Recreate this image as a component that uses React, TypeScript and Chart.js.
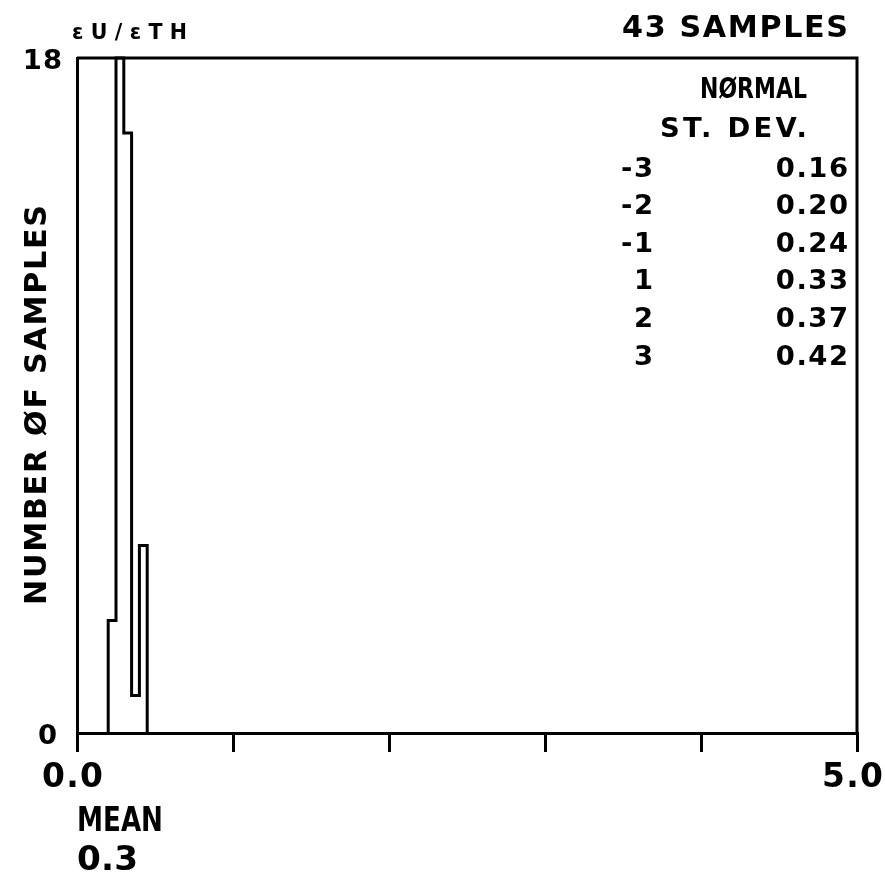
import React, { useEffect, useRef } from "react";
import { Chart, registerables } from "chart.js";

Chart.register(...registerables);

// Histogram bins (eU/eTH ratio) and sample counts
const binEdges = [0.2, 0.25, 0.3, 0.35, 0.4, 0.45];
const counts = [3, 18, 16, 1, 5];

// Axis ticks
const xTickValues = [0, 1, 2, 3, 4, 5];
const xTickLabels = ["0.0", "", "", "", "", "5.0"];
const yTickValues = [0, 18];
const yTickLabels = ["0", "18"];

// Normal standard deviation table
const stdDevLevels = ["-3", "-2", "-1", "1", "2", "3"];
const stdDevValues = ["0.16", "0.20", "0.24", "0.33", "0.37", "0.42"];

const ratioLabel = "εU/εTH";
const sampleLabel = "43 SAMPLES";
const yAxisTitle = "NUMBER ØF SAMPLES";
const tableTitle1 = "NØRMAL";
const tableTitle2 = "ST. DEV.";
const meanLabel = "MEAN";
const meanValue = "0.3";

const FONT = "'DejaVu Sans', sans-serif";
const CAP = 0.729;

// draw text so that its caps span [top,bottom] and its ink spans [x0,x1]
function fitText(
  ctx: CanvasRenderingContext2D,
  text: string,
  x0: number,
  x1: number,
  top: number,
  bottom: number
) {
  const size = (bottom - top) / CAP;
  ctx.save();
  ctx.font = `bold ${size}px ${FONT}`;
  (ctx as any).letterSpacing = "0px";
  ctx.textAlign = "left";
  ctx.textBaseline = "alphabetic";
  const natural = ctx.measureText(text).width;
  const target = x1 - x0;
  const n = [...text].length;
  if (natural >= target || n < 2) {
    ctx.translate(x0, bottom);
    ctx.scale(target / natural, 1);
    ctx.fillText(text, 0, 0);
  } else {
    (ctx as any).letterSpacing = `${(target - natural) / (n - 1)}px`;
    ctx.fillText(text, x0, bottom);
  }
  ctx.restore();
}

function rightText(
  ctx: CanvasRenderingContext2D,
  text: string,
  x1: number,
  cy: number,
  cap: number,
  spacing: number
) {
  const size = cap / CAP;
  ctx.save();
  ctx.font = `bold ${size}px ${FONT}`;
  (ctx as any).letterSpacing = `${spacing}px`;
  ctx.textAlign = "left";
  ctx.textBaseline = "alphabetic";
  const w = ctx.measureText(text).width - spacing;
  ctx.fillText(text, x1 - w, cy + cap / 2);
  ctx.restore();
}

const annotations = {
  id: "annotations",
  afterDraw(chart: any) {
    const ctx: CanvasRenderingContext2D = chart.ctx;
    const a = chart.chartArea;
    const xs = chart.scales.x;
    const ys = chart.scales.y;
    ctx.save();
    ctx.strokeStyle = "#000";
    ctx.lineWidth = 3;
    ctx.beginPath();
    ctx.moveTo(a.left, a.top);
    ctx.lineTo(a.right, a.top);
    ctx.lineTo(a.right, a.bottom);
    ctx.stroke();
    ctx.fillStyle = "#000";

    // x tick labels
    xTickValues.forEach((v, i) => {
      const t = xTickLabels[i];
      if (!t) return;
      const px = xs.getPixelForValue(v) - 4.5;
      fitText(ctx, t, px - 30.5, px + 30.5, 763, 787);
    });
    // y tick labels
    yTickValues.forEach((v, i) => {
      const t = yTickLabels[i];
      const py = ys.getPixelForValue(v);
      rightText(ctx, t, a.left - (t.length > 1 ? 15 : 20), py + 1, 20, 1);
    });

    fitText(ctx, ratioLabel, 72, 187, 24, 39);
    fitText(ctx, sampleLabel, 622, 848, 15, 37);
    fitText(ctx, tableTitle1, 700, 807, 77, 98);
    fitText(ctx, tableTitle2, 660, 807, 117, 137);
    stdDevLevels.forEach((lv, i) => {
      const y = 166.5 + i * 37.6;
      rightText(ctx, lv, 653, y, 20, 1.5);
      rightText(ctx, stdDevValues[i], 848, y, 20, 1.5);
    });
    fitText(ctx, meanLabel, 77, 163, 806, 831);
    fitText(ctx, meanValue, 77, 138, 845, 870);

    ctx.save();
    ctx.translate(0, 0);
    ctx.rotate(-Math.PI / 2);
    // rotated: x' = -y, y' = x
    fitText(ctx, yAxisTitle, -605, -205, 24, 46);
    ctx.restore();
    ctx.restore();
  },
};

export default function App() {
  const ref = useRef<HTMLCanvasElement | null>(null);

  useEffect(() => {
    if (!ref.current) return;
    const points = [
      { x: binEdges[0], y: 0 },
      ...counts.map((c, i) => ({ x: binEdges[i], y: c })),
      { x: binEdges[binEdges.length - 1], y: 0 },
    ];
    const chart = new Chart(ref.current, {
      type: "line",
      data: {
        datasets: [
          {
            data: points,
            stepped: "before",
            borderColor: "#000",
            borderWidth: 3,
            pointRadius: 0,
            fill: false,
            clip: false as any,
          },
        ],
      },
      options: {
        animation: false,
        responsive: false,
        events: [],
        layout: { padding: { top: 58, right: 28, left: 0, bottom: 0 } },
        plugins: { legend: { display: false }, tooltip: { enabled: false } },
        scales: {
          x: {
            type: "linear",
            min: 0,
            max: 5,
            afterBuildTicks: (s: any) => {
              s.ticks = xTickValues.map((v) => ({ value: v }));
            },
            afterFit: (s: any) => {
              s.height = 144;
            },
            ticks: { display: false, autoSkip: false },
            grid: {
              drawOnChartArea: false,
              drawTicks: true,
              tickLength: 19,
              color: "#000",
              lineWidth: 3,
            },
            border: { display: true, color: "#000", width: 3 },
          },
          y: {
            type: "linear",
            min: 0,
            max: 18,
            afterBuildTicks: (s: any) => {
              s.ticks = yTickValues.map((v) => ({ value: v }));
            },
            afterFit: (s: any) => {
              s.width = 77;
            },
            ticks: { display: false },
            grid: { drawOnChartArea: false, drawTicks: false },
            border: { display: true, color: "#000", width: 3 },
          },
        },
      },
      plugins: [annotations],
    });
    return () => chart.destroy();
  }, []);

  return (
    <div style={{ position: "absolute", left: 0, top: 0, width: 885, height: 877, background: "#fff" }}>
      <canvas ref={ref} width={885} height={877} style={{ width: 885, height: 877 }} />
    </div>
  );
}
